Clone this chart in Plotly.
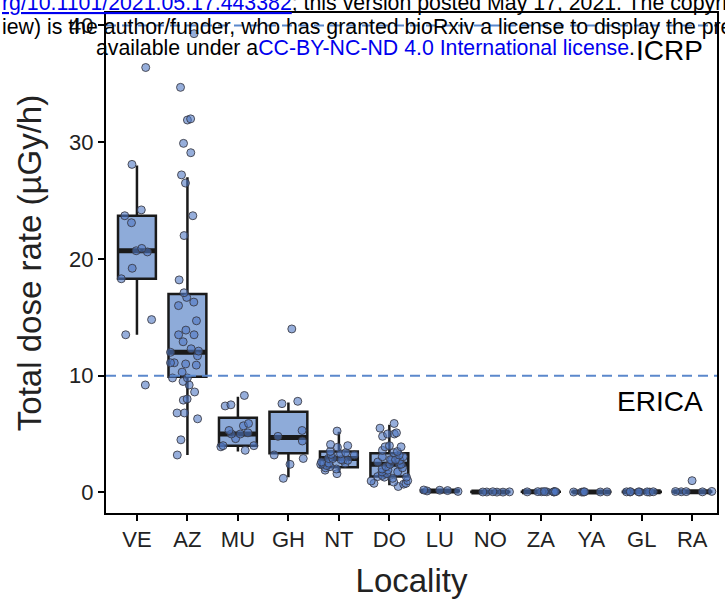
import plotly.graph_objects as go

categories = ["VE", "AZ", "MU", "GH", "NT", "DO", "LU", "NO", "ZA", "YA", "GL", "RA"]

# box statistics (µGy/h)
q1 = [18.3, 9.9, 4.0, 3.35, 2.15, 1.35, 0.10, 0.02, 0.04, 0.03, 0.03, 0.05]
medians = [20.7, 12.0, 5.0, 4.7, 2.9, 2.4, 0.12, 0.03, 0.05, 0.03, 0.04, 0.06]
q3 = [23.7, 17.0, 6.4, 6.9, 3.5, 3.35, 0.16, 0.04, 0.06, 0.04, 0.05, 0.08]
lower = [13.5, 3.2, 3.5, 1.3, 1.65, 0.6, 0.08, 0.01, 0.03, 0.02, 0.02, 0.04]
upper = [28.0, 27.0, 8.2, 7.7, 5.2, 5.8, 0.20, 0.05, 0.07, 0.05, 0.06, 0.10]

# individual observations
pts_VE = [36.4, 28.1, 24.2, 23.7, 23.1, 20.9, 20.7, 20.6, 19.2, 18.3, 14.8, 13.5, 9.2]
pts_AZ = [39.3, 34.7, 32.0, 31.9, 29.9, 29.1, 27.2, 26.5, 23.7, 22.0, 18.2, 17.1, 16.7,
          16.3, 16.0, 14.7, 13.9, 13.5, 13.5, 12.9, 12.3, 12.1, 11.7, 12.0, 11.1, 11.1,
          10.9, 11.0, 10.3, 9.8, 9.8, 9.2, 9.5, 8.6, 8.0, 7.9, 6.8, 6.8, 6.3, 4.5, 3.2]
pts_MU = [8.3, 7.4, 7.5, 5.9, 5.7, 5.1, 5.0, 5.0, 4.0, 4.0, 3.6, 3.9, 5.3, 4.6]
pts_GH = [14.0, 1.2, 7.6, 7.8, 5.3, 4.4, 4.8, 3.2, 2.4, 2.9]
pts_NT = [5.25, 4.1, 3.86, 4.0, 3.4, 3.3, 3.5, 3.2, 3.25, 2.9, 2.9, 2.8, 2.75, 2.6,
          2.4, 2.5, 2.2, 2.3, 2.1, 1.9, 1.6, 2.0, 2.5, 2.75]
pts_DO = [5.9, 5.5, 5.1, 5.0, 5.0, 4.8, 4.0, 3.9, 3.9, 3.6, 3.4, 3.5, 3.2, 3.05, 3.05,
          2.75, 2.8, 2.75, 2.8, 2.6, 2.4, 2.4, 2.4, 2.1, 2.2, 2.0, 1.9, 1.75, 1.75, 1.6,
          1.45, 1.35, 1.3, 1.3, 0.88, 0.77, 0.77, 0.7, 0.5, 0.97, 1.2, 1.0]
pts_LU = [0.08, 0.12, 0.15, 0.20, 0.18]
pts_NO = [0.02, 0.03, 0.04, 0.03, 0.05, 0.02]
pts_ZA = [0.05, 0.04, 0.06, 0.05, 0.03, 0.07, 0.05, 0.04, 0.06]
pts_YA = [0.03, 0.02, 0.04, 0.03, 0.05, 0.03]
pts_GL = [0.04, 0.03, 0.05, 0.04, 0.02, 0.06, 0.04, 0.03]
pts_RA = [0.06, 0.05, 1.0, 0.08, 0.04, 0.07]

points = [pts_VE, pts_AZ, pts_MU, pts_GH, pts_NT, pts_DO,
          pts_LU, pts_NO, pts_ZA, pts_YA, pts_GL, pts_RA]

thresholds = [10, 40]
threshold_labels = ["ERICA", "ICRP"]

pos = list(range(1, len(categories) + 1))

fig = go.Figure()

# boxes
fig.add_trace(go.Box(
    x=pos, q1=q1, median=medians, q3=q3, lowerfence=lower, upperfence=upper,
    width=0.75, whiskerwidth=0, fillcolor="#8eabd9",
    line=dict(color="#1a1a1a", width=2.5), boxpoints=False, hoverinfo="skip",
    showlegend=False,
))
# thick median bars
fig.add_trace(go.Box(
    x=pos, q1=medians, median=medians, q3=medians, lowerfence=medians, upperfence=medians,
    width=0.75, whiskerwidth=0, fillcolor="rgba(0,0,0,0)",
    line=dict(color="#1a1a1a", width=5), boxpoints=False, hoverinfo="skip",
    showlegend=False,
))

# jittered points
xs, ys = [], []
for p, vals in zip(pos, points):
    xs += [p] * len(vals)
    ys += vals
fig.add_trace(go.Box(
    x=xs, y=ys, boxpoints="all", jitter=1, pointpos=0, width=0.8,
    fillcolor="rgba(0,0,0,0)", line=dict(color="rgba(0,0,0,0)", width=0),
    marker=dict(size=8, color="rgba(80,120,195,0.6)",
                line=dict(color="rgba(55,55,65,0.85)", width=1)),
    hoverinfo="y", showlegend=False,
))

# reference lines
for t in thresholds:
    fig.add_shape(type="line", xref="paper", x0=0, x1=1, yref="y", y0=t, y1=t,
                  line=dict(color="#5b88cc", width=2, dash="10px,6px"), layer="above")

font_main = "Liberation Sans, Arial, Helvetica, sans-serif"

# threshold labels
fig.add_annotation(x=0.981, xref="paper", y=40, yref="y", yshift=-25,
                   text=threshold_labels[1], showarrow=False, xanchor="right",
                   font=dict(size=28, color="black", family=font_main))
fig.add_annotation(x=0.981, xref="paper", y=10, yref="y", yshift=-26,
                   text=threshold_labels[0], showarrow=False, xanchor="right",
                   font=dict(size=28, color="black", family=font_main))

# bioRxiv watermark text (page header overlay)
wm = dict(size=21.3, family=font_main, color="black")
fig.add_annotation(x=-0.174, xref="paper", y=1.021, yref="paper", xanchor="left", yanchor="middle",
                   showarrow=False, font=wm,
                   text="<span style='color:#0000ee;text-decoration:underline'>rg/10.1101/2021.05.17.443382</span>"
                        "; this version posted May 17, 2021. The copyright holder for this preprint")
fig.add_annotation(x=-0.174, xref="paper", y=0.972, yref="paper", xanchor="left", yanchor="middle",
                   showarrow=False, font=wm,
                   text="iew) is the author/funder, who has granted bioRxiv a license to display the preprint in perpetuity.")
fig.add_annotation(x=-0.02, xref="paper", y=0.93, yref="paper", xanchor="left", yanchor="middle",
                   showarrow=False, font=wm,
                   text="available under a<span style='color:#0000ee'>CC-BY-NC-ND 4.0 International license</span>.")

axis_common = dict(showline=True, linecolor="black", linewidth=2, mirror=True,
                   ticks="outside", ticklen=6, tickwidth=1.5, tickcolor="black",
                   showgrid=False, zeroline=False,
                   tickfont=dict(size=22, color="#222", family=font_main))

fig.update_layout(
    width=725, height=608,
    margin=dict(l=106, r=6, t=13, b=95),
    paper_bgcolor="white", plot_bgcolor="white",
    boxmode="overlay", showlegend=False,
    xaxis=dict(axis_common, tickmode="array", tickvals=pos, ticktext=categories,
               range=[0.387, 12.49],
               title=dict(text="Locality", font=dict(size=33, color="#222", family=font_main),
                          standoff=17)),
    yaxis=dict(axis_common, tickvals=[0, 10, 20, 30, 40], range=[-1.77, 41.07],
               title=dict(text="Total dose rate (µGy/h)",
                          font=dict(size=33, color="#222", family=font_main), standoff=18)),
)

fig.write_html("out.html")
